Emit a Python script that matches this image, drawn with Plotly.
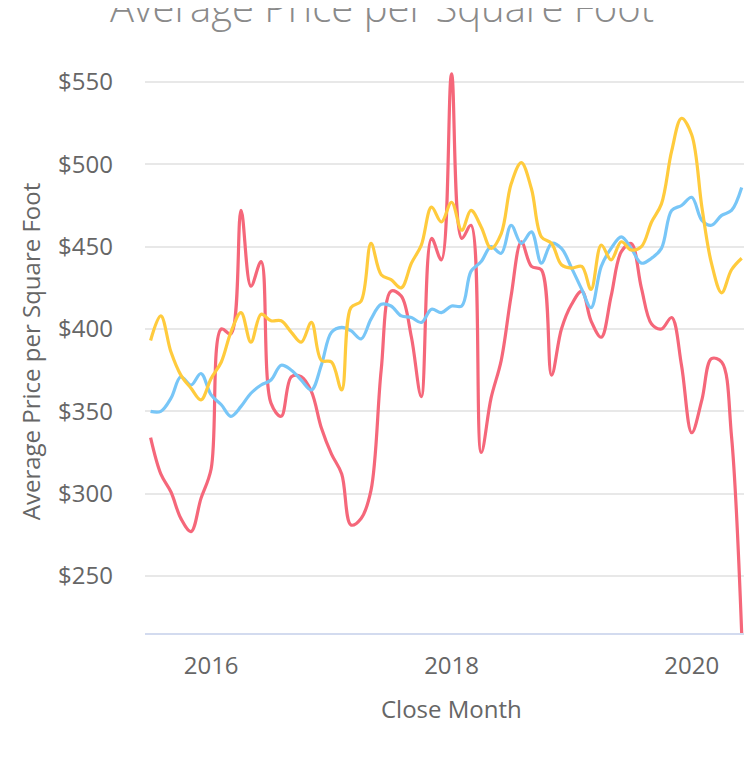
import plotly.graph_objects as go
import pandas as pd

months = pd.date_range("2015-07-01", "2020-06-01", freq="MS").strftime("%Y-%m-%d").tolist()

red_values = [334, 312, 301, 285, 277, 297, 315, 400, 397, 472,
              426, 441, 355, 347, 371, 371, 362, 340, 324, 312,
              281, 285, 302, 375, 423, 420, 395, 359, 455, 442,
              555, 455, 463, 325, 358, 381, 420, 453, 438, 436,
              372, 400, 415, 423, 405, 395, 420, 447, 452, 425,
              403, 400, 407, 378, 337, 357, 382, 380, 335, 215]

blue_values = [350, 350, 358, 371, 366, 373, 360, 354, 347, 353,
               361, 366, 369, 378, 375, 369, 363, 378, 398, 401,
               399, 394, 406, 415, 414, 408, 407, 404, 412, 410,
               414, 414, 435, 441, 450, 446, 463, 452, 459, 440,
               452, 449, 437, 424, 413, 438, 449, 456, 449, 440,
               443, 449, 472, 475, 480, 466, 463, 469, 472, 486]

yellow_values = [393, 408, 386, 372, 364, 357, 370, 380, 398, 410,
                 392, 409, 405, 405, 398, 392, 404, 381, 380, 363,
                 413, 417, 452, 433, 430, 425, 440, 451, 474, 465,
                 477, 460, 472, 462, 449, 458, 488, 501, 485, 456,
                 452, 439, 437, 438, 424, 451, 442, 453, 448, 450,
                 465, 476, 508, 528, 518, 474, 440, 422, 436, 443]

series = [
    ("Series A", red_values, "#F5677A"),
    ("Series B", blue_values, "#78C6F7"),
    ("Series C", yellow_values, "#FFCB3D"),
]

fig = go.Figure()
for name, vals, color in series:
    fig.add_trace(go.Scatter(
        x=months, y=vals, name=name, mode="lines",
        line=dict(color=color, width=3.2, shape="spline", smoothing=1),
    ))

font_family = "Open Sans"
W, H = 736, 749
ML, MR, MT, MB = 137, 0, 62, 124
plot_h = H - MT - MB
plot_w = W - ML - MR

fig.update_layout(
    width=W, height=H,
    margin=dict(l=ML, r=MR, t=MT, b=MB),
    paper_bgcolor="white", plot_bgcolor="white",
    showlegend=False,
    font=dict(family=font_family, color="#666666", size=24),
    xaxis=dict(
        type="date",
        range=["2015-06-14", "2020-06-08"],
        showgrid=False,
        showline=True, linecolor="#d3dbef", linewidth=2,
        zeroline=False,
        dtick="M24", tick0="2016-01-01", tickformat="%Y",
        ticks="", ticklabelstandoff=10,
        tickfont=dict(size=24, color="#666666"),
    ),
    yaxis=dict(
        range=[215.4, 557.3],
        dtick=50, tick0=0, tickprefix="$",
        showgrid=True, gridcolor="#e8e8e8", gridwidth=2,
        zeroline=False, showline=False,
        ticks="", ticklabelstandoff=31,
        tickfont=dict(size=24, color="#666666"),
        title=dict(text="Average Price per Square Foot", standoff=10,
                   font=dict(size=24, color="#666666")),
    ),
    annotations=[
        dict(
            text="Average Price per Square Foot",
            xref="paper", yref="paper",
            x=(373.5 - ML) / plot_w, xanchor="center",
            y=1 + (MT + 2) / plot_h, yanchor="middle",
            showarrow=False,
            font=dict(family=font_family, size=40, color="#8a8a8a", weight=300),
        ),
        dict(
            text="Close Month",
            xref="paper", yref="paper",
            x=(443 - ML) / plot_w, xanchor="center",
            y=-75 / plot_h, yanchor="middle",
            showarrow=False,
            font=dict(family=font_family, size=24, color="#666666"),
        ),
    ],
)

fig.write_html("out.html")
